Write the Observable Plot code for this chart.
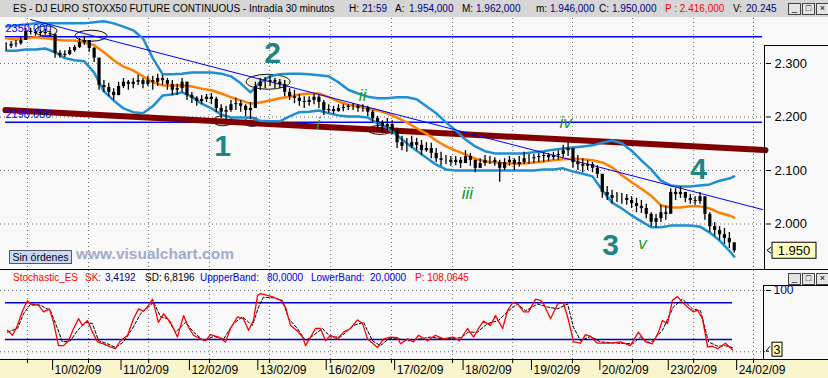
<!DOCTYPE html>
<html><head><meta charset="utf-8">
<script src="https://cdn.jsdelivr.net/npm/d3@7"></script>
<script src="https://cdn.jsdelivr.net/npm/@observablehq/plot@0.6"></script>
<style>
html,body{margin:0;padding:0;background:#f8f8f8;}
#wrap{position:relative;width:828px;height:378px;overflow:hidden;background:#f8f8f8;font-family:"Liberation Sans",Arial,sans-serif;}
.abs{position:absolute;}
#titlebar{left:0;top:0;width:828px;height:17px;background:#d6d6d6;}
.t{position:absolute;font-size:10px;line-height:12px;white-space:nowrap;color:#000;}
.nv{color:#000080}
.rd{color:#ff0000}
.bl{color:#0000e0}
.btns{position:absolute;display:flex;gap:1px}
.btn{width:11px;height:10px;border:1px solid #444;background:#e4e4e4;font-size:9px;line-height:9px;text-align:center;color:#000;}
#main{left:0;top:18px;}
#stoch{left:0;top:270px;}
</style></head>
<body><div id="wrap">
<div class="abs" id="titlebar"></div>
<div class="abs" style="left:0;top:359px;width:828px;height:19px;background:#f8f4cc;"></div>
<div class="abs" id="main"></div>
<div class="abs" id="stoch"></div>
<div class="abs" style="left:0;top:269px;width:828px;height:1px;background:#000;"></div>
<div class="abs" style="left:0;top:359px;width:828px;height:1px;background:#000;"></div>
<div class="abs" style="left:764px;top:45px;width:1px;height:224px;background:#000;"></div>
<div class="abs" style="left:764px;top:45px;width:64px;height:1px;background:#000;"></div>
<div class="abs" style="left:763px;top:285px;width:1px;height:74px;background:#000;"></div>
<div class="abs" style="left:763px;top:285px;width:65px;height:1px;background:#000;"></div>

<span class="t" style="left:13px;top:3px">ES - DJ EURO STOXX50 FUTURE CONTINUOUS - Intradía 30 minutos</span>
<span class="t" style="left:349px;top:3px">H:</span><span class="t nv" style="left:362px;top:3px">21:59</span>
<span class="t" style="left:395px;top:3px">A:</span><span class="t nv" style="left:409px;top:3px">1.954,000</span>
<span class="t" style="left:462px;top:3px">M:</span><span class="t nv" style="left:476px;top:3px">1.962,000</span>
<span class="t" style="left:536px;top:3px">m:</span><span class="t nv" style="left:550px;top:3px">1.946,000</span>
<span class="t" style="left:599px;top:3px">C:</span><span class="t nv" style="left:612px;top:3px">1.950,000</span>
<span class="t rd" style="left:665px;top:3px">P : 2.416,000</span>
<span class="t" style="left:733px;top:3px">V:</span><span class="t nv" style="left:746px;top:3px">20.245</span>
<div class="btns" style="left:788px;top:3px"><div class="btn">_</div><div class="btn">□</div><div class="btn">×</div></div>

<span class="t rd" style="left:13px;top:272px">Stochastic_ES</span>
<span class="t rd" style="left:85px;top:272px">SK:</span><span class="t nv" style="left:105px;top:272px">3,4192</span>
<span class="t" style="left:145px;top:272px">SD:</span><span class="t" style="left:164px;top:272px">6,8196</span>
<span class="t bl" style="left:200px;top:272px">UppperBand:</span><span class="t bl" style="left:267px;top:272px">80,0000</span>
<span class="t bl" style="left:311px;top:272px">LowerBand:</span><span class="t bl" style="left:370px;top:272px">20,0000</span>
<span class="t rd" style="left:415px;top:272px">P: 108,0645</span>
<div class="btns" style="left:788px;top:273px"><div class="btn">_</div><div class="btn">□</div><div class="btn">×</div></div>

<div class="abs" style="left:9px;top:250px;width:61px;height:12px;background:#c9d9ef;border:1px solid #556;font-size:10.5px;line-height:12px;text-align:center;color:#002;">Sin órdenes</div>
<div class="abs" style="left:76px;top:245px;font-size:15.5px;font-weight:bold;color:#a3abcb;line-height:18px;">www.visualchart.com</div>
</div>
<script>
// ---------- price data (30-min bars, sampled every 2 bars) ----------
const barIdx = d3.range(9, 308, 2);
const barHigh = [
2339,2341,2343,2349,2366,2366,2362,2362,2364,2360,
2339,2324,2324,2330,2334,2347,2351,2343,2330,2306,
2268,2263,2253,2265,2272,2268,2272,2278,2272,2276,
2276,2280,2278,2272,2268,2261,2272,2265,2246,2238,
2240,2242,2244,2237,2223,2220,2231,2235,2231,2223,
2227,2265,2272,2274,2276,2272,2270,2268,2253,2250,
2242,2238,2238,2242,2240,2231,2223,2220,2223,2223,
2223,2225,2223,2223,2220,2212,2201,2193,2197,2193,
2179,2164,2160,2164,2160,2156,2152,2151,2141,2134,
2128,2126,2126,2124,2137,2132,2119,2122,2128,2126,
2124,2119,2122,2126,2122,2126,2134,2130,2130,2132,
2134,2132,2134,2137,2147,2152,2134,2128,2122,2119,
2115,2109,2085,2070,2063,2059,2057,2055,2051,2048,
2044,2037,2021,2018,2035,2033,2066,2066,2070,2059,
2055,2051,2059,2048,2021,2003,1995,1992,1984,1962];
const barLow = [
2324,2328,2330,2334,2347,2353,2351,2351,2353,2351,
2310,2310,2311,2315,2321,2328,2334,2321,2302,2250,
2246,2238,2231,2240,2253,2250,2253,2259,2253,2257,
2250,2257,2259,2250,2240,2240,2246,2231,2225,2220,
2223,2227,2223,2209,2197,2195,2209,2212,2209,2201,
2195,2216,2250,2253,2257,2253,2253,2238,2231,2225,
2220,2216,2220,2223,2216,2203,2207,2205,2209,2210,
2212,2212,2209,2209,2201,2190,2179,2171,2175,2167,
2141,2137,2134,2141,2137,2128,2134,2122,2115,2108,
2111,2108,2109,2104,2115,2108,2096,2104,2108,2111,
2108,2078,2100,2108,2100,2106,2111,2111,2113,2115,
2115,2117,2119,2119,2124,2126,2104,2100,2096,2100,
2096,2085,2048,2044,2038,2040,2037,2035,2029,2021,
2020,2010,1995,1992,2003,2007,2033,2044,2048,2040,
2037,2035,2037,2007,1984,1977,1969,1962,1954,1946];
const barClose = [
2332,2336,2337,2343,2360,2358,2356,2358,2356,2354,
2319,2315,2317,2324,2330,2339,2343,2328,2310,2259,
2255,2246,2240,2257,2265,2261,2265,2268,2261,2268,
2265,2272,2268,2261,2250,2253,2265,2240,2235,2229,
2233,2237,2233,2216,2209,2212,2223,2225,2220,2212,
2216,2257,2265,2265,2268,2265,2261,2246,2238,2235,
2229,2227,2231,2237,2227,2212,2214,2210,2216,2218,
2220,2220,2216,2216,2209,2197,2190,2182,2186,2175,
2152,2145,2145,2152,2147,2137,2141,2132,2122,2119,
2119,2115,2119,2113,2126,2119,2104,2113,2119,2119,
2115,2104,2115,2119,2111,2115,2122,2122,2124,2126,
2128,2124,2128,2130,2137,2141,2115,2111,2108,2111,
2104,2093,2059,2053,2048,2048,2048,2044,2038,2033,
2029,2018,2003,2010,2021,2018,2059,2055,2059,2048,
2044,2042,2051,2018,1995,1988,1980,1973,1965,1950];

// ---------- Bollinger bands and moving average ----------
const bandIdx = d3.range(9, 306, 4).concat([307]);
const bandUpper = [
2369,2371,2373,2375,2375,2375,2375,2375,2375,2377,
2379,2375,2369,2362,2347,2310,2280,2280,2281,2283,
2283,2283,2281,2276,2263,2246,2265,2276,2280,2281,
2281,2280,2278,2276,2265,2251,2244,2238,2235,2235,
2237,2237,2233,2220,2207,2190,2175,2158,2145,2136,
2132,2132,2132,2132,2134,2136,2139,2141,2143,2145,
2147,2152,2156,2151,2137,2119,2102,2081,2072,2070,
2070,2072,2074,2081,2085,2089];
const bandLower = [
2324,2324,2326,2326,2328,2321,2310,2306,2304,2283,
2248,2231,2216,2209,2207,2220,2240,2242,2246,2238,
2225,2216,2205,2199,2199,2199,2193,2192,2192,2201,
2209,2210,2212,2207,2203,2201,2201,2199,2188,2179,
2166,2151,2137,2124,2111,2102,2100,2100,2100,2100,
2100,2100,2100,2100,2100,2102,2102,2104,2098,2094,
2089,2063,2040,2029,2016,2005,1994,1994,1997,1997,
1997,1995,1984,1969,1950,1939];
const movAvg = [
2347,2345,2347,2349,2347,2345,2343,2343,2339,2334,
2321,2306,2294,2287,2276,2265,2259,2259,2259,2257,
2253,2250,2244,2237,2231,2225,2227,2231,2235,2238,
2242,2244,2244,2237,2229,2223,2220,2216,2212,2207,
2199,2190,2179,2169,2156,2145,2137,2130,2122,2117,
2115,2113,2113,2113,2115,2117,2119,2121,2122,2121,
2119,2115,2106,2091,2078,2066,2053,2035,2031,2031,
2033,2033,2029,2021,2016,2012];

// ---------- drawn lines / levels ----------
const levelPrices = [2350, 2190];
const levelFromIdx = 8.7, levelToIdx = 318.6;
const redTrendIdx = [8.7, 319.8], redTrendPrice = [2213, 2138];
const blueTrendIdx = [19, 318.6], blueTrendPrice = [2382, 2027];

// ---------- annotations ----------
const waveText = ["1","2","3","4"];
const waveIdx = [97.6, 118, 256.4, 292.4];
const wavePrice = [2145, 2319, 1960, 2102];
const subText = ["i","ii","iii","iv","v"];
const subIdx = [136.8, 154.9, 197.8, 238, 269.5];
const subPrice = [2188, 2240, 2057, 2190, 1964];
const ellIdx = [25.5, 43.9, 116.4, 97.9, 109.8, 162.2];
const ellPrice = [2360, 2351, 2265, 2192, 2190, 2175];
const lastClose = 1950;

// ---------- axes ----------
const priceTicks = [2000, 2100, 2200, 2300];
const gridIdx = [17.7, 42.7, 67.3, 92.2, 116.8, 141.8, 166.7, 191.7, 216.3, 240.8, 265.4, 290.4, 314.9];
const dayIdx = [28, 56, 84, 112, 140, 168, 196, 224, 252, 280, 308];
const dayLabels = ["10/02/09","11/02/09","12/02/09","13/02/09","16/02/09","17/02/09","18/02/09","19/02/09","20/02/09","23/02/09","24/02/09"];

// ---------- stochastic ----------
const skIdx = [9.5,11.6,13.6,15.7,17.7,19.8,22.2,24.3,26.7,28.4,30.4,32.5,34.5,36.6,38.6,40.2,42.3,44.3,46.4,48.8,51.7,53.7,55.8,58.7,61.1,63.2,65.2,67.3,68.9,70.1,71.3,73.4,76.3,79.1,81.6,83.6,85.7,88.5,90.6,92.6,95.9,98.8,100.8,103.7,106.1,108.2,110.2,111.9,113.1,116,118.4,121.3,123.3,125.4,128.2,130.3,131.5,133.6,135.6,137.7,139.7,141.8,144.6,147.1,149.9,152.8,154.9,156.9,161,163.5,166.3,169.2,170.4,173.3,175.7,177.8,181.5,184.7,188,191.7,194.6,197.8,200.3,202.3,204.4,207.2,209.3,212.2,214.2,216.3,218.3,220.8,222.8,225.7,227.7,229,231.8,234.7,237.1,239.2,241.2,244.1,246.1,248.2,251,256.4,260.5,264.5,267.8,270.7,273.5,276,277.6,279.7,281.7,283.8,285.8,287.9,290.3,292,294,296.1,298.1,300.2,303.4,306.3];
const skVal = [35,27,43,67,83,76,76,65,70,48,10,10,18,38,54,43,51,32,16,13,8,5,18,27,54,70,66,76,86,67,48,62,48,24,59,40,27,21,18,28,24,16,38,57,54,35,51,92,95,92,89,84,73,43,34,24,10,24,38,38,18,27,21,32,38,52,46,21,7,21,24,23,13,21,16,27,18,27,21,24,18,38,24,38,50,43,59,38,67,80,78,65,65,86,84,78,54,78,80,51,16,14,28,25,14,14,16,10,32,16,13,32,51,46,84,90,81,73,65,68,54,8,9,5,14,3.4];
const sdIdx = [9.5,13.6,16.1,19,23,27.1,30,32,35.3,38.2,41.5,44.3,46.8,50.5,53.7,57,60.7,64,67.3,69.3,72.2,75,78.3,82.4,85.7,89.8,93.9,98,102,105.7,109.8,112.3,114.3,118.4,122.1,124.6,128.2,131.5,134.8,138.5,141.8,145.8,151.2,155.3,158.9,162.2,165.5,169.6,173.7,178.6,182.7,188,195,198.2,201.9,206,210.5,214.6,218.3,221.6,226.5,230.6,234.7,238.8,241.2,244.1,248.2,252.3,259.2,265.4,268.6,272.7,277.6,282.1,285.8,289.9,293.2,296.5,300.2,303.4,306.3];
const sdVal = [32,38,62,78,76,67,38,16,18,35,48,46,18,13,7,16,38,62,73,81,57,54,32,48,32,18,25,21,46,57,43,73,89,88,84,54,38,18,27,38,24,24,43,48,18,10,21,21,18,21,24,21,23,32,32,46,51,67,78,67,78,73,70,78,40,18,25,16,14,13,24,14,35,73,86,70,67,16,9,10,6.8];
const stochBands = [20, 80];
const stochFromIdx = 8.7, stochToIdx = 306.3;
const lastSK = 3.4;

// ---------- build tables ----------
const bars = barIdx.map((i, k) => ({i, hi: barHigh[k], lo: barLow[k], cl: barClose[k], op: k ? barClose[k - 1] : barClose[0]}));
const bands = bandIdx.map((i, k) => ({i, up: bandUpper[k], lo: bandLower[k], ma: movAvg[k]}));
const redTrend = redTrendIdx.map((i, k) => ({i, p: redTrendPrice[k]}));
const blueTrend = blueTrendIdx.map((i, k) => ({i, p: blueTrendPrice[k]}));
const waves = waveText.map((t, k) => ({t, i: waveIdx[k], p: wavePrice[k]}));
const subs = subText.map((t, k) => ({t, i: subIdx[k], p: subPrice[k]}));
const sk = skIdx.map((i, k) => ({i, v: skVal[k]}));
const sd = sdIdx.map((i, k) => ({i, v: sdVal[k]}));
const dayLabel = new Map(dayIdx.map((d, k) => [d, dayLabels[k]]));

const xDomain = [6.67, 319.8];
const FONT = "Liberation Sans, Arial, sans-serif";
const dotted = {stroke: "#6a6a6a", strokeDasharray: "1,3", strokeWidth: 1};
const bandColor = "#1f8fd0";

const mainChart = Plot.plot({
  width: 828, height: 252, marginLeft: 0, marginRight: 63, marginTop: 0, marginBottom: 0,
  style: {background: "transparent", fontFamily: FONT, fontSize: "12px", color: "#000"},
  x: {domain: xDomain, axis: null},
  y: {domain: [1913.1, 2384.1], axis: null},
  marks: [
    Plot.ruleX(gridIdx, dotted),
    Plot.ruleY(priceTicks, {...dotted, x1: xDomain[0], x2: xDomain[1]}),
    Plot.ruleY(levelPrices, {x1: levelFromIdx, x2: levelToIdx, stroke: "#0000ff", strokeWidth: 1.5}),
    Plot.line(redTrend, {x: "i", y: "p", stroke: "#800000", strokeWidth: 6}),
    Plot.line(bands, {x: "i", y: "up", stroke: bandColor, strokeWidth: 2.5}),
    Plot.line(bands, {x: "i", y: "lo", stroke: bandColor, strokeWidth: 2.5}),
    Plot.line(bands, {x: "i", y: "ma", stroke: "#ff8000", strokeWidth: 2.5}),
    Plot.line(blueTrend, {x: "i", y: "p", stroke: "#0000ff", strokeWidth: 1}),
    Plot.ruleX(bars, {x: "i", y1: "lo", y2: "hi", stroke: "#000", strokeWidth: 1.3}),
    Plot.ruleX(bars, {x: "i", y1: "op", y2: "cl", stroke: "#000", strokeWidth: 3.2}),
    Plot.text(levelPrices, {x: levelFromIdx, y: d => d, text: d => d.toFixed(3), textAnchor: "start", dy: -8, fill: "#0000ff", fontSize: 11}),
    Plot.text(waves, {x: "i", y: "p", text: "t", fill: "#1d8684", fontSize: 30, fontWeight: "bold"}),
    Plot.text(subs, {x: "i", y: "p", text: "t", fill: "#22962a", fontSize: 17, fontStyle: "italic"}),
    Plot.axisY({anchor: "right", ticks: priceTicks, tickSize: 5, tickPadding: 4, tickFormat: d => d3.format(",")(d).replace(",", "."), fontSize: 13, label: null})
  ]
});
document.getElementById("main").appendChild(mainChart);

// annotation ellipses (placed through the scales, under the lines)
{
  const sx = mainChart.scale("x"), sy = mainChart.scale("y");
  const ellRx = [11, 16, 22, 10, 8, 12], ellRy = [5, 5.5, 7.5, 5, 4.5, 4.5];
  const g = d3.create("svg:g");
  ellIdx.forEach((xi, k) => g.append("ellipse")
    .attr("cx", sx.apply(xi)).attr("cy", sy.apply(ellPrice[k]))
    .attr("rx", ellRx[k]).attr("ry", ellRy[k])
    .attr("fill", "#f3eed3").attr("stroke", "#111").attr("stroke-width", 1));
  const gs = mainChart.querySelectorAll(":scope > g");
  mainChart.insertBefore(g.node(), gs[2]);
  // last price tag
  const y = sy.apply(lastClose);
  const tag = d3.select(mainChart).append("g");
  tag.append("path").attr("d", `M771,${y - 3}L767,${y}L771,${y + 3}`).attr("fill", "none").attr("stroke", "#000");
  tag.append("rect").attr("x", 772).attr("y", y - 8).attr("width", 44).attr("height", 16).attr("fill", "#ffffc0").attr("stroke", "#000");
  tag.append("text").attr("x", 794).attr("y", y + 4.5).attr("text-anchor", "middle").attr("font-size", 13).attr("font-family", FONT).text("1.950");
}

const stochChart = Plot.plot({
  width: 828, height: 108, marginLeft: 0, marginRight: 63, marginTop: 0, marginBottom: 19,
  style: {background: "transparent", fontFamily: FONT, fontSize: "12px", color: "#000"},
  x: {domain: xDomain, axis: null},
  y: {domain: [-12.6, 132.6], axis: null},
  marks: [
    Plot.ruleX(gridIdx, {...dotted, y1: -12.6, y2: 132.6}),
    Plot.ruleY([0, 100], {...dotted, x1: xDomain[0], x2: xDomain[1]}),
    Plot.ruleY(stochBands, {x1: stochFromIdx, x2: stochToIdx, stroke: "#0000c8", strokeWidth: 1.5}),
    Plot.line(sd, {x: "i", y: "v", stroke: "#000", strokeWidth: 1, strokeDasharray: "3,2"}),
    Plot.line(sk, {x: "i", y: "v", stroke: "#ff0000", strokeWidth: 1.3}),
    Plot.axisX({anchor: "bottom", ticks: gridIdx, tickSize: 4, tickFormat: () => "", label: null}),
    Plot.axisX({anchor: "bottom", ticks: dayIdx, tickSize: 11, tickFormat: () => "", label: null}),
    Plot.axisX({anchor: "bottom", ticks: dayIdx, tickSize: 0, tickPadding: 6, tickFormat: d => dayLabel.get(d), textAnchor: "start", dx: 2, fontSize: 12, label: null}),
    Plot.axisY({anchor: "right", ticks: [100], tickSize: 5, tickPadding: 3, fill: "#000080", fontSize: 12, label: null})
  ]
});
document.getElementById("stoch").appendChild(stochChart);
{
  const sy = stochChart.scale("y");
  const y = sy.apply(lastSK);
  const tag = d3.select(stochChart).append("g");
  tag.append("path").attr("d", `M770,${y - 3}L766,${y + 2}M766,${y + 2}L769,${y + 2}`).attr("fill", "none").attr("stroke", "#000");
  tag.append("rect").attr("x", 772).attr("y", y - 7).attr("width", 10).attr("height", 14).attr("fill", "#ffffc0").attr("stroke", "#000");
  tag.append("text").attr("x", 777).attr("y", y + 4.5).attr("text-anchor", "middle").attr("font-size", 12.5).attr("font-family", FONT).text("3");
}
</script>
</body></html>
